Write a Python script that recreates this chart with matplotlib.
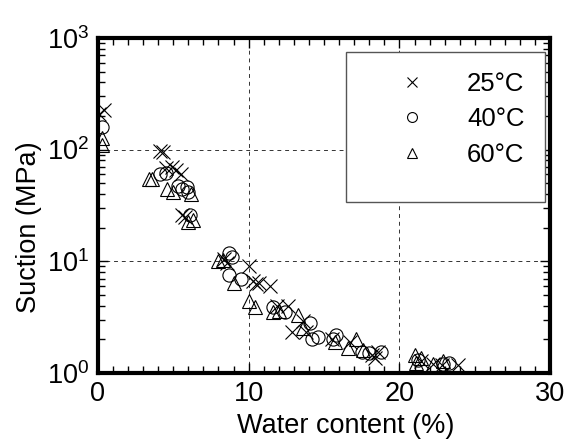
import matplotlib
matplotlib.use("Agg")
import matplotlib.pyplot as plt
from matplotlib.ticker import MultipleLocator, LogLocator, NullFormatter
from matplotlib.patches import Rectangle

plt.rcParams['font.family'] = ['Liberation Sans', 'DejaVu Sans']

# 25 C (crosses)
w25 = [0.1, 0.4, 4.1, 4.3, 4.5, 4.9, 5.2, 5.5, 5.6, 5.8, 8.4, 8.6, 10.0, 10.3, 10.5,
       10.7, 11.4, 11.9, 12.6, 12.9, 13.6, 13.8, 15.5, 16.7, 18.2, 18.4, 18.6, 21.4,
       22.2, 22.8, 23.9]
s25 = [210, 225, 97, 95, 68, 70, 65, 60, 26, 25, 10.5, 9.7, 9.0, 6.6, 6.2,
       6.4, 6.0, 4.0, 4.0, 2.3, 2.9, 2.3, 2.0, 1.9, 1.45, 1.35, 1.55, 1.27,
       1.2, 1.18, 1.18]
# 40 C (circles)
w40 = [0.25, 4.1, 4.5, 5.3, 5.6, 5.9, 6.0, 6.1, 8.7, 8.9, 8.7, 9.5, 11.65, 12.4,
       14.1, 14.2, 14.6, 15.8, 15.6, 17.5, 18.0, 18.8, 21.2, 22.9, 23.3]
s40 = [160, 60, 62, 47, 44, 46, 42, 26, 11.8, 10.8, 7.6, 6.9, 3.9, 3.5,
       2.8, 2.0, 2.1, 2.2, 2.0, 1.55, 1.5, 1.55, 1.3, 1.2, 1.22]
# 60 C (triangles)
w60 = [0.25, 0.3, 3.4, 3.6, 4.6, 5.0, 6.2, 6.0, 6.3, 8.0, 8.3, 9.0, 10.0, 10.4,
       11.65, 12.0, 13.3, 13.6, 15.7, 16.6, 17.1, 17.6, 21.0, 21.1, 21.4, 22.2, 22.9]
s60 = [127, 110, 54, 55, 44, 42, 40, 22.5, 23.3, 10.0, 10.2, 6.4, 4.4, 3.9,
       3.5, 3.6, 3.3, 2.5, 1.9, 1.66, 2.0, 1.6, 1.45, 1.22, 1.35, 1.2, 1.27]

labels = ['25°C', '40°C', '60°C']

fig = plt.figure(figsize=(5.75, 4.46), dpi=100)
ax = fig.add_axes([0.170, 0.164, 0.787, 0.751])

mk = dict(linestyle='none', color='black', markerfacecolor='none', markeredgewidth=0.8)
ax.plot(w25, s25, marker='x', markersize=9.5, label=labels[0], **mk)
ax.plot(w40, s40, marker='o', markersize=9.5, label=labels[1], **mk)
ax.plot(w60, s60, marker='^', markersize=10, label=labels[2], **mk)

ax.set_yscale('log')
ax.set_xlim(0, 30)
ax.set_ylim(1, 1000)
ax.xaxis.set_major_locator(MultipleLocator(10))
ax.xaxis.set_minor_locator(MultipleLocator(1))
ax.yaxis.set_major_locator(LogLocator(base=10))
ax.yaxis.set_minor_locator(LogLocator(base=10, subs=range(2, 10)))
ax.yaxis.set_minor_formatter(NullFormatter())

ax.grid(True, which='major', linestyle=(0, (4, 4)), color='#333333', linewidth=0.7)
ax.tick_params(which='both', direction='in', top=True, right=True, labelsize=19.5)
ax.tick_params(which='major', length=7, width=1, pad=6)
ax.tick_params(which='minor', length=5, width=1)
for s in ax.spines.values():
    s.set_linewidth(3)

ax.set_xlabel('Water content (%)', fontsize=19.5, labelpad=4)
ax.set_ylabel('Suction (MPa)', fontsize=19.5, labelpad=4)
ax.xaxis.label.set_x(0.547)
ax.yaxis.label.set_y(0.436)

# legend frame
ax.add_patch(Rectangle((0.549, 0.51), 0.44, 0.448, transform=ax.transAxes,
                       facecolor='white', edgecolor='#555555', linewidth=1.0, zorder=4))
leg = ax.legend(loc='upper left', bbox_to_anchor=(0.666, 0.8985), fontsize=18.5,
                frameon=False, borderpad=0, labelspacing=0.45, handletextpad=1.64,
                borderaxespad=0, handlelength=1.0, markerscale=0.75)
leg.set_zorder(5)

fig.savefig('out.png', dpi=100)
